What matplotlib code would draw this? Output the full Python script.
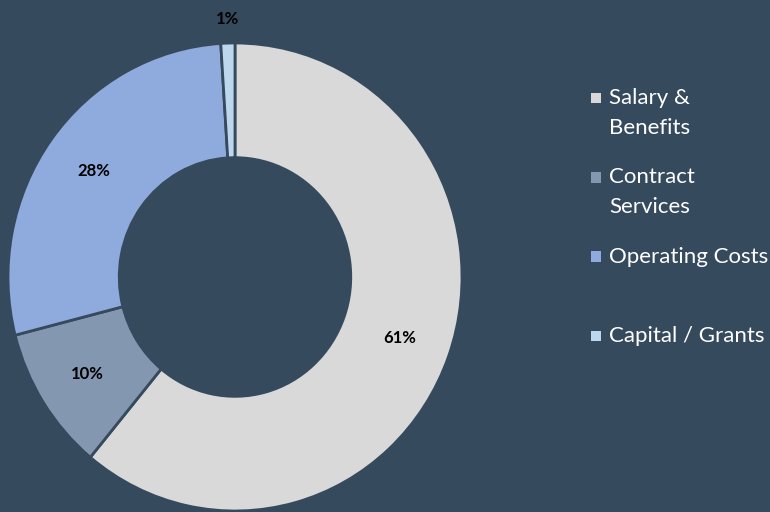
import matplotlib.pyplot as plt

categories = ['Salary &\nBenefits', 'Contract\nServices', 'Operating Costs', 'Capital / Grants']
values = [61, 10, 28, 1]
colors = ['#d9d9d9', '#8497b0', '#8faadc', '#bdd7ee']
bg = '#364a5e'

W, H = 770, 512
ky = 234 / 227  # the reference donut is slightly taller than wide

fig = plt.figure(figsize=(W / 100, H / 100), dpi=100, facecolor=bg)
ax = fig.add_axes([0, 0, 1, 1])
ax.set_facecolor(bg)

R = 227
cx, cy = 235, (H - 277) / ky
wedges, texts, autotexts = ax.pie(
    values, colors=colors, startangle=90, counterclock=False,
    center=(cx, cy), radius=R, frame=True,
    autopct='%.0f%%', pctdistance=0.77,
    wedgeprops=dict(width=R * 0.49, edgecolor=bg, linewidth=2),
    textprops=dict(fontsize=12, fontweight='bold', color='black', family='Lato'))
# tiny slice: put its label outside the ring
for t, v in zip(autotexts, values):
    if v < 3:
        x, y = t.get_position()
        t.set_position((cx + (x - cx) / 0.77 * 1.105, cy + (y - cy) / 0.77 * 1.105))
ax.set_aspect('auto')
ax.set_xlim(0, W)
ax.set_ylim(0, H / ky)
ax.axis('off')

# legend
for i, (lab, c) in enumerate(zip(categories, colors)):
    y = (H - (98 + 79.3 * i)) / ky
    ax.scatter([596], [y], marker='s', s=58, color=c, edgecolors='none')
    for j, line in enumerate(lab.split('\n')):
        ax.text(609, y - 30 * j / ky, line, color='white', fontsize=16, family='Lato',
                va='center', ha='left')

fig.savefig('out.png', dpi=100, facecolor=bg)
